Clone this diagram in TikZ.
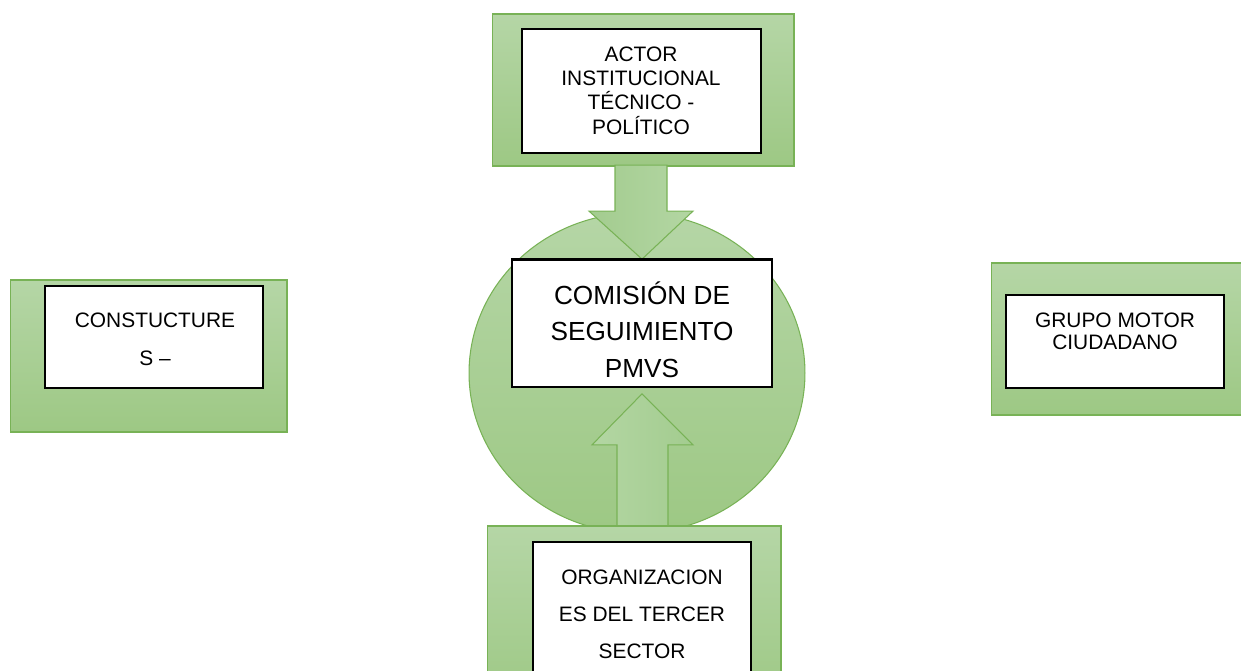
\documentclass[tikz,border=0pt]{standalone}
\usepackage{fontspec}
\setmainfont{Liberation Sans}
\usetikzlibrary{shapes.geometric}

\definecolor{grntop}{HTML}{B5D6A6}
\definecolor{grnbot}{HTML}{9DC884}
\definecolor{grnline}{HTML}{78B256}
\definecolor{arrlight}{HTML}{B3D6A3}
\definecolor{arrdark}{HTML}{A3CC8F}

\tikzset{
	greenbox/.style={draw=grnline, line width=0.6pt, top color=grntop, bottom color=grnbot, inner sep=0pt},
	whitebox/.style={draw=black, line width=1pt, fill=white, inner sep=0pt},
	boxtext/.style={align=center, inner sep=0pt, font=\fontsize{11.9}{13.8}\selectfont},
	bigtext/.style={align=center, inner sep=0pt, font=\fontsize{14.9}{20.8}\selectfont},
	downarrow/.style={draw=grnline, line width=0.6pt, left color=arrdark, right color=arrlight},
	uparrow/.style={draw=grnline, line width=0.6pt, left color=arrlight, right color=arrdark}
}

\begin{document}
\begin{tikzpicture}[x=0.02cm, y=-0.02cm]
		\clip (0,0) rectangle (1241,671);

		% top: actor institucional
		\node[greenbox, minimum width=6.04cm, minimum height=3.04cm] (actorbg) at (643,90) {};
		\node[whitebox, minimum width=4.78cm, minimum height=2.48cm] (actor) at (641.5,91) {};
		\node[boxtext] (actortxt) at (641,90.5) {ACTOR\\INSTITUCIONAL\\TÉCNICO -\\POLÍTICO};

		% centre: comision
		\node[greenbox, ellipse, minimum width=6.72cm, minimum height=6.4cm] (ring) at (637,373) {};
		\node[whitebox, minimum width=5.2cm, minimum height=2.54cm] (comision) at (642,323.5) {};
		\node[bigtext] (comisiontxt) at (642,329.5) {COMISIÓN DE\\SEGUIMIENTO\\PMVS};

		\path[downarrow] (comision.north) -- ++(51,-48) -- ++(-26,0) -- ++(0,-46)
			-- ++(-52,0) -- ++(0,46) -- ++(-26,0) -- cycle;
		\draw[black, line width=1pt] (comision.north west) -- (comision.north east);

		\path[uparrow] (comision.south) ++(0,6) -- ++(51,51) -- ++(-25,0) -- ++(0,83)
			-- ++(-51,0) -- ++(0,-83) -- ++(-25,0) -- cycle;

		% bottom: organizaciones
		\node[greenbox, minimum width=5.88cm, minimum height=3.6cm] (organizbg) at (634,616) {};
		\node[whitebox, minimum width=4.36cm, minimum height=3.2cm] (organiz) at (642,622) {};
		\node[boxtext, font=\fontsize{11.9}{21}\selectfont] (organiztxt) at (642,614) {ORGANIZACION\\ES DEL TERCER\\SECTOR};

		% left: constuctures
		\node[greenbox, minimum width=5.54cm, minimum height=3.04cm] (constbg) at (148.5,356) {};
		\node[whitebox, minimum width=4.36cm, minimum height=2.04cm] (const) at (154,337) {};
		\node[boxtext, font=\fontsize{11.9}{21.5}\selectfont] (consttxt) at (155,339) {CONSTUCTURE\\S –};

		% right: grupo motor
		\node[greenbox, minimum width=5.2cm, minimum height=3.04cm] (grupobg) at (1121,339) {};
		\node[whitebox, minimum width=4.36cm, minimum height=1.86cm] (grupo) at (1115,341.5) {};
		\node[boxtext, font=\fontsize{11.9}{12.8}\selectfont] (grupotxt) at (1115,331.5) {GRUPO MOTOR\\CIUDADANO};
	\end{tikzpicture}
\end{document}
